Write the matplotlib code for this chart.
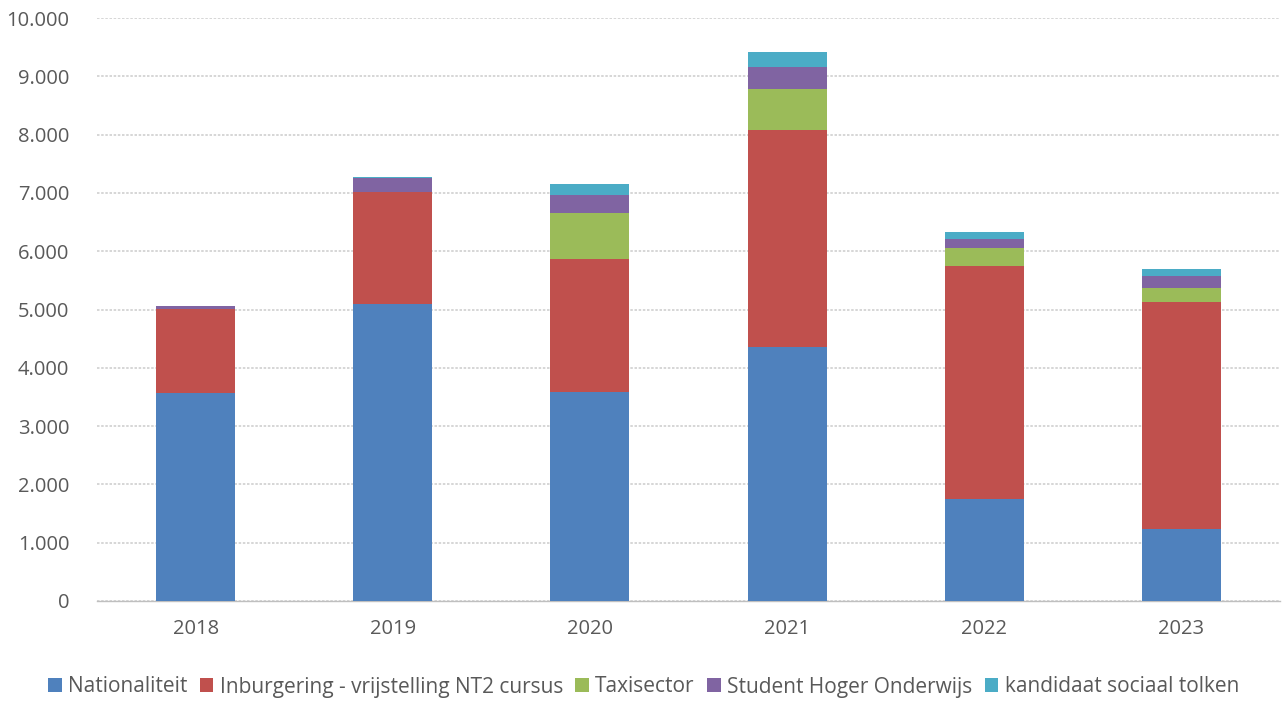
import matplotlib
matplotlib.use("Agg")
import matplotlib.pyplot as plt
from matplotlib.ticker import FuncFormatter, MultipleLocator
from matplotlib.patches import Patch
import numpy as np

years = ["2018", "2019", "2020", "2021", "2022", "2023"]
series_names = ["Nationaliteit", "Inburgering - vrijstelling NT2 cursus", "Taxisector",
                "Student Hoger Onderwijs", "kandidaat sociaal tolken"]
nationaliteit = [3575, 5095, 3590, 4360, 1745, 1240]
inburgering = [1435, 1925, 2270, 3725, 4005, 3895]
taxisector = [0, 0, 790, 700, 310, 240]
student = [45, 230, 315, 380, 155, 205]
sociaal_tolken = [0, 20, 195, 245, 110, 110]
colors = ["#4F81BD", "#C0504D", "#9BBB59", "#8064A2", "#4BACC6"]

plt.rcParams['font.family'] = ['Open Sans', 'DejaVu Sans']

fig = plt.figure(figsize=(12.87, 7.01), dpi=100)
ax = fig.add_axes([97/1287, 1-601/701, (1280-97)/1287, (601-18)/701])

x = np.arange(len(years))
bottom = np.zeros(len(years))
for vals, c, name in zip([nationaliteit, inburgering, taxisector, student, sociaal_tolken], colors, series_names):
    ax.bar(x, vals, width=0.4, bottom=bottom, color=c, label=name, zorder=3)
    bottom += np.array(vals)

ax.set_xlim(-0.5, len(years) - 0.5)
ax.set_ylim(0, 10000)
ax.yaxis.set_major_locator(MultipleLocator(1000))
ax.yaxis.set_major_formatter(FuncFormatter(lambda v, p: f"{int(v):,}".replace(",", ".")))
ax.set_xticks(x)
ax.set_xticklabels(years)
ax.grid(axis='y', color='#d0d0d0', linestyle=(0, (1.5, 1)), linewidth=1.2, zorder=0)
for s in ['top', 'right', 'left']:
    ax.spines[s].set_visible(False)
ax.spines['bottom'].set_color('#bfbfbf')
ax.spines['bottom'].set_linewidth(1.0)
ax.tick_params(axis='both', length=0, labelsize=14.5, colors='#595959')
ax.tick_params(axis='y', pad=20)
ax.tick_params(axis='x', pad=13)

handles = [Patch(facecolor=c, label=n) for c, n in zip(colors, series_names)]
fig.legend(handles=handles, loc='center', bbox_to_anchor=(0.5, 1-687/701), ncol=5, frameon=False,
           fontsize=15, labelcolor='#595959', handlelength=0.65, handleheight=0.65,
           handletextpad=0.3, columnspacing=0.6)

fig.savefig("out.png", dpi=100)
